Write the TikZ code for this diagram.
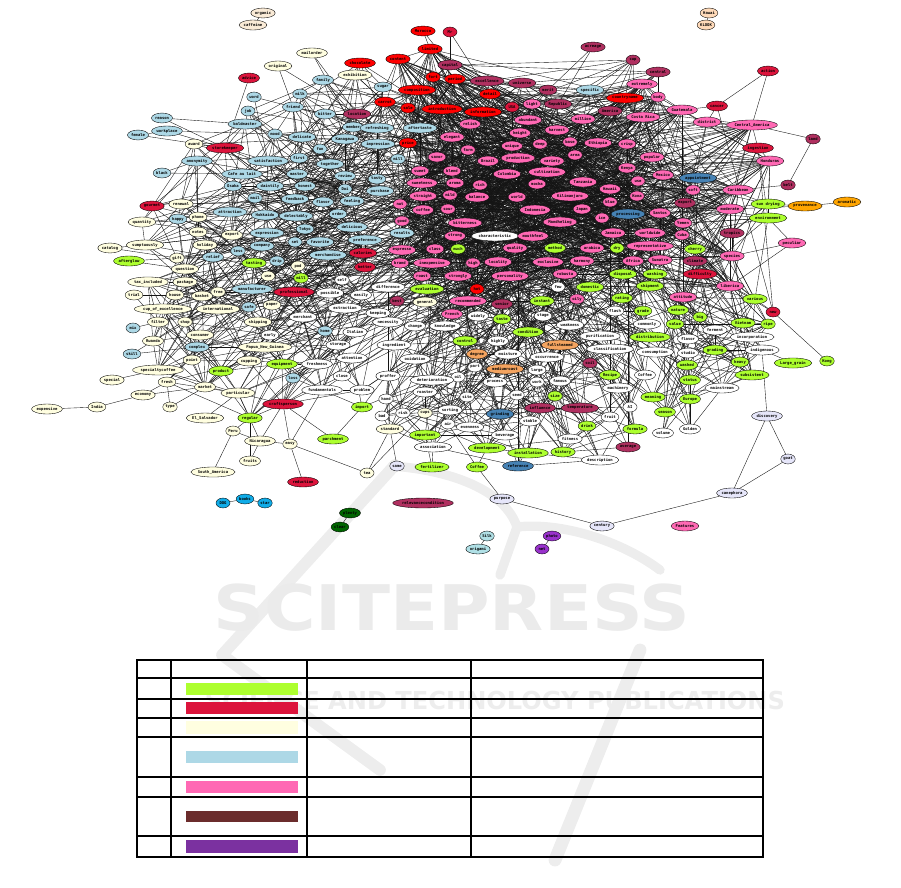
\documentclass[tikz,border=0pt]{standalone}
\usepackage{fontspec}
\setmonofont{DejaVu Sans Mono}
\setsansfont{DejaVu Sans}
\usetikzlibrary{shapes.geometric,backgrounds}
\definecolor{clb}{HTML}{ADD8E6}
\definecolor{cpk}{HTML}{FF69B4}
\definecolor{crd}{HTML}{FF0000}
\definecolor{ccr}{HTML}{DC143C}
\definecolor{cmr}{HTML}{B03060}
\definecolor{cgy}{HTML}{ADFF2F}
\definecolor{civ}{HTML}{FFFEE0}
\definecolor{csb}{HTML}{4682B4}
\definecolor{cog}{HTML}{FFA500}
\definecolor{csa}{HTML}{F4A460}
\definecolor{clv}{HTML}{E6E6FA}
\definecolor{cds}{HTML}{10ACE8}
\definecolor{cdg}{HTML}{006400}
\definecolor{cpb}{HTML}{B0E0E6}
\definecolor{cdv}{HTML}{9932CC}
\definecolor{cli}{HTML}{FAEBD7}
\definecolor{cpc}{HTML}{FFDAB9}
\definecolor{cbr}{HTML}{6B2C2C}
\definecolor{cpu}{HTML}{7B31A0}
\newcount\corecnt
\newcount\hubcnt
\tikzset{
  core/.code={\global\advance\corecnt by 1 \pgfkeysalso{alias/.expanded=k\the\corecnt}},
  hub/.code={\global\advance\corecnt by 1 \global\advance\hubcnt by 1 \pgfkeysalso{alias/.expanded=k\the\corecnt,alias/.expanded=h\the\hubcnt}}
}
\begin{document}
\begin{tikzpicture}[x=0.03cm,y=-0.03cm,
  nd/.style={ellipse,draw=black,line width=0.3pt,inner xsep=0.4pt,inner ysep=1.3pt,minimum height=8.5pt,minimum width=12pt,font=\fontsize{3.3}{3.6}\selectfont\ttfamily\bfseries},
  lb/.style={nd,fill=clb}, pk/.style={nd,fill=cpk}, rd/.style={nd,fill=crd}, cr/.style={nd,fill=ccr},
  mr/.style={nd,fill=cmr}, gy/.style={nd,fill=cgy}, iv/.style={nd,fill=civ}, wh/.style={nd,fill=white},
  sb/.style={nd,fill=csb}, og/.style={nd,fill=cog}, sa/.style={nd,fill=csa}, lv/.style={nd,fill=clv},
  ds/.style={nd,fill=cds}, dg/.style={nd,fill=cdg}, pb/.style={nd,fill=cpb}, dv/.style={nd,fill=cdv},
  li/.style={nd,fill=cli}, pc/.style={nd,fill=cpc},
  link/.style={line width=0.32pt,black!92},
  wm/.style={draw=black!7,line cap=round,line join=round}]
\useasboundingbox (0,0) rectangle (901,887);

\begin{pgfonlayer}{background}
\draw[wm,line width=10pt] (395,465) -- (222,655) -- (380,770);
\draw[wm,line width=11pt] (640,650) -- (555,860);
\draw[wm,line width=8pt] (392,466) .. controls (450,470) and (505,490) .. (517,527);
\draw[wm,line width=8pt] (517,527) .. controls (560,522) and (620,540) .. (660,570);
\draw[wm,line width=8pt] (517,527) -- (500,575);
\node[text=black!8] (wmtitle) at (452,608) {\resizebox{14.3cm}{1.4cm}{\sffamily\bfseries SCITEPRESS}};
\node[text=black!7] (wmsub) at (495,700) {\resizebox{17.4cm}{0.55cm}{\sffamily\bfseries SCIENCE AND TECHNOLOGY PUBLICATIONS}};
\end{pgfonlayer}

\node[li] (organic) at (263,13) {organic};
\node[li] (caffeine) at (253,25) {caffeine};
\node[pc] (hawai) at (709,13) {Hawai};
\node[pc] (klook) at (706,25) {KLOOK};
\node[rd] (morocco) at (423,31) {Morocco};
\node[cr] (mr) at (450,32) {Mr};
\node[mr] (acreage) at (593,47) {acreage};
\node[rd,hub] (limited) at (430,49) {limited};
\node[rd,hub] (content) at (398,59) {content};
\node[mr,core] (capital) at (450,65) {capital};
\node[mr,core] (cup) at (633,60) {cup};
\node[mr,core] (central) at (658,72) {central};
\node[rd,hub] (fort) at (433,77) {fort};
\node[rd,hub] (period) at (455,79) {period};
\node[mr,core] (excellence) at (487,81) {excellence};
\node[mr,core] (universe) at (522,83) {universe};
\node[pk,hub] (extremely) at (642,84) {extremely};
\node[rd,hub] (composition) at (417,90) {composition};
\node[mr,core] (merit) at (548,90) {merit};
\node[lb,core] (specific) at (590,90) {specific};
\node[rd,hub] (detail) at (490,94) {detail};
\node[pk,hub] (body) at (658,97) {body};
\node[rd,hub] (countryname) at (625,98) {countryname};
\node[pk,hub] (light) at (532,104) {light};
\node[mr,core] (republic) at (558,104) {Republic};
\node[cr,core] (usa) at (512,107) {USA};
\node[rd,hub] (sale) at (408,108) {sale};
\node[rd,hub] (introduction) at (442,109) {introduction};
\node[rd,hub] (information) at (483,112) {information};
\node[mr,core] (america) at (610,111) {America};
\node[pk,hub] (guatemala) at (682,110) {Guatemala};
\node[pk,hub] (abundant) at (528,120) {abundant};
\node[pk,hub] (million) at (583,119) {million};
\node[pk,hub] (costarica) at (643,117) {Costa Rica};
\node[pk,hub] (relish) at (470,124) {relish};
\node[lb,core] (aftertaste) at (420,128) {aftertaste};
\node[pk,hub] (height) at (520,133) {height};
\node[pk,hub] (harvest) at (557,130) {harvest};
\node[rd,hub] (price) at (408,143) {price};
\node[pk,hub] (elegant) at (452,137) {elegant};
\node[pk,hub] (deep) at (540,144) {deep};
\node[pk,hub] (ethiopia) at (598,143) {Ethiopia};
\node[pk,hub] (crisp) at (627,144) {crisp};
\node[pk,hub] (base) at (570,142) {base};
\node[pk,hub] (unique) at (512,146) {unique};
\node[pk,hub] (farm) at (468,150) {farm};
\node[pk,hub] (area) at (575,155) {area};
\node[pk,hub] (popular) at (652,157) {popular};
\node[pk,hub] (savor) at (437,157) {savor};
\node[lb,core] (millA) at (398,159) {mill};
\node[pk,hub] (production) at (518,158) {production};
\node[pk,hub] (brazil) at (488,161) {Brazil};
\node[pk,hub] (variety) at (552,161) {variety};
\node[pk,hub] (kenya) at (627,168) {Kenya};
\node[pk,hub] (sweet) at (420,171) {sweet};
\node[pk,hub] (blend) at (452,171) {blend};
\node[pk,hub] (colombia) at (507,174) {Colombia};
\node[pk,hub] (cultivation) at (547,172) {cultivation};
\node[pk,hub] (mexico) at (663,175) {Mexico};
\node[pk,hub] (sweetness) at (422,183) {sweetness};
\node[pk,hub] (aroma) at (455,183) {aroma};
\node[pk,hub] (rich) at (480,185) {rich};
\node[pk,hub] (mocha) at (537,184) {mocha};
\node[pk,hub] (tanzania) at (583,182) {Tanzania};
\node[pk,hub] (hawaii) at (610,189) {Hawaii};
\node[pk,hub] (usep) at (638,181) {use};
\node[pk,hub] (straight) at (423,196) {straight};
\node[pk,hub] (mild) at (450,195) {mild};
\node[pk,hub] (balance) at (477,197) {balance};
\node[pk,hub] (world) at (517,197) {world};
\node[pk,hub] (kilimanjaro) at (570,196) {Kilimanjaro};
\node[pk,hub] (kona) at (637,196) {Kona};
\node[pk,hub] (nut) at (400,204) {nut};
\node[pk,hub] (blue) at (610,202) {blue};
\node[pk,hub] (sour) at (448,209) {sour};
\node[pk,hub] (coffeep) at (423,210) {coffee};
\node[pk,hub] (indonesia) at (535,210) {Indonesia};
\node[pk,hub] (japan) at (582,209) {Japan};
\node[sb,hub] (processing) at (628,214) {processing};
\node[pk,hub] (ice) at (602,218) {ice};
\node[pk,hub] (good) at (402,221) {good};
\node[pk,hub] (bitterness) at (465,223) {bitterness};
\node[pk,hub] (mandheling) at (560,222) {Mandheling};
\node[lb,core] (results) at (402,233) {results};
\node[pk,hub] (strong) at (455,236) {strong};
\node[wh,hub] (characteristic) at (495,236) {characteristic};
\node[pk,hub] (mouth) at (533,236) {mouthfeel};
\node[pk,hub] (jamaica) at (613,233) {Jamaica};
\node[pk,hub] (worldwide) at (650,233) {worldwide};
\node[pk,hub] (espresso) at (402,250) {espresso};
\node[pk,hub] (class) at (435,249) {class};
\node[gy,core] (much) at (458,249) {much};
\node[pk,hub] (quality) at (515,248) {quality};
\node[gy,core] (method) at (555,248) {method};
\node[pk,hub] (arabica) at (592,248) {arabica};
\node[gy,core] (dry) at (617,248) {dry};
\node[pk,hub] (representative) at (650,246) {representative};
\node[pk,hub] (brand) at (400,263) {brand};
\node[pk,hub] (inexpensive) at (432,263) {inexpensive};
\node[pk,hub] (high) at (473,263) {high};
\node[pk,hub] (locality) at (498,262) {locality};
\node[pk,hub] (exclusive) at (548,262) {exclusive};
\node[pk,hub] (harmony) at (582,261) {harmony};
\node[pk,hub] (africa) at (633,261) {Africa};
\node[pk,hub] (roast) at (422,276) {roast};
\node[pk,hub] (strongly) at (458,276) {strongly};
\node[pk,hub] (personality) at (510,276) {personality};
\node[pk,hub] (robusta) at (565,274) {robusta};
\node[gy,core] (disposal) at (623,274) {disposal};
\node[gy,core] (washing) at (655,274) {washing};
\node[wh,core] (difference) at (388,287) {difference};
\node[gy,core] (evaluation) at (427,289) {evaluation};
\node[rd,hub] (hot) at (477,289) {hot};
\node[wh,core] (few) at (558,287) {few};
\node[gy,core] (domestic) at (590,287) {domestic};
\node[gy,core] (shipment) at (650,286) {shipment};
\node[mr,core] (best) at (397,301) {best};
\node[iv,core] (general) at (425,302) {general};
\node[pk,hub] (recommended) at (468,301) {recommended};
\node[mr,core] (senior) at (502,304) {senior};
\node[gy,core] (instant) at (542,301) {instant};
\node[pk,hub] (oily) at (577,299) {oily};
\node[gy,core] (rating) at (622,298) {rating};
\node[pk,hub] (french) at (452,314) {French};
\node[wh,core] (widely) at (478,316) {widely};
\node[gy,core] (taste) at (502,319) {taste};
\node[wh,core] (stage) at (543,316) {stage};
\node[wh,core] (flash) at (615,311) {flash};
\node[gy,core] (grade) at (643,311) {grade};
\node[wh,core] (necessity) at (388,322) {necessity};
\node[wh,core] (change) at (415,326) {change};
\node[wh,core] (knowledge) at (445,326) {knowledge};
\node[wh,core] (weakness) at (570,325) {weakness};
\node[wh,core] (commonly) at (647,324) {commonly};
\node[gy,core] (condition) at (528,332) {condition};
\node[wh,core] (purification) at (600,336) {purification};
\node[gy,core] (distribution) at (650,337) {distribution};
\node[wh,core] (ingredient) at (394,345) {ingredient};
\node[gy,core] (control) at (465,341) {control};
\node[wh,core] (highly) at (498,341) {highly};
\node[sa,core] (fullsteamed) at (560,345) {fullsteamed};
\node[wh,core] (classification) at (610,349) {classification};
\node[sa,core] (degree) at (477,354) {degree};
\node[wh,core] (moisture) at (508,354) {moisture};
\node[wh,core] (occurrence) at (547,357) {occurrence};
\node[wh,core] (oxidation) at (415,359) {oxidation};
\node[wh,core] (part) at (475,367) {part};
\node[sa,core] (mediumroast) at (505,369) {mediumroast};
\node[wh,core] (large) at (537,370) {large};
\node[mr,core] (soil) at (590,363) {soil};
\node[gy,core] (recipe) at (610,375) {Recipe};
\node[wh,core] (coffeew) at (645,375) {Coffee};
\node[wh,core] (proffer) at (388,376) {proffer};
\node[wh,core] (oil) at (458,377) {oil};
\node[wh,core] (deterioration) at (432,380) {deterioration};
\node[wh,core] (process) at (495,382) {process};
\node[wh,core] (work) at (537,382) {work};
\node[wh,core] (famous) at (560,381) {famous};
\node[wh,core] (machinery) at (618,388) {machinery};
\node[wh,core] (roaster) at (425,392) {roaster};
\node[wh,core] (site) at (467,397) {site};
\node[wh,core] (seed) at (517,395) {seed};
\node[gy,core] (size) at (555,396) {size};
\node[wh,core] (hand) at (386,399) {hand};
\node[wh,core] (ai) at (630,407) {AI};
\node[wh,core] (sorting) at (450,410) {sorting};
\node[wh,core] (risk) at (403,413) {risk};
\node[iv,core] (cups) at (425,413) {cups};
\node[sb,core] (grinding) at (500,414) {grinding};
\node[mr,core] (influence) at (540,408) {influence};
\node[mr,core] (temperature) at (580,408) {temperature};
\node[wh,core] (fruit) at (610,417) {fruit};
\node[wh,core] (bad) at (382,416) {bad};
\node[wh,core] (stable) at (530,421) {stable};
\node[wh,core] (air) at (448,424) {air};
\node[wh,core] (evenness) at (470,427) {evenness};
\node[gy,core] (drink) at (587,426) {drink};
\node[gy,core] (formula) at (635,429) {formula};
\node[iv,core] (standard) at (390,429) {standard};
\node[gy,core] (important) at (425,435) {important};
\node[wh,core] (beverage) at (505,435) {beverage};
\node[wh,core] (fitness) at (570,439) {fitness};
\node[mr,core] (average) at (628,447) {average};
\node[wh,core] (association) at (433,447) {association};
\node[gy,core] (development) at (487,448) {development};
\node[gy,core] (installation) at (528,453) {installation};
\node[gy,core] (history) at (563,452) {history};
\node[wh,core] (description) at (600,460) {description};
\node[sb,core] (reference) at (518,466) {reference};
\node[gy] (fertilizer) at (432,467) {fertilizer};
\node[gy] (coffeeg) at (477,467) {Coffee};
\node[iv] (tea) at (367,473) {tea};
\node[lv] (same) at (397,466) {same};

\node[iv] (mailorder) at (312,53) {mailorder};
\node[rd,core] (chocolate) at (360,63) {chocolate};
\node[iv] (original) at (278,66) {original};
\node[iv,core] (exhibition) at (355,75) {exhibition};
\node[cr] (advice) at (249,78) {advice};
\node[lb,core] (family) at (323,80) {family};
\node[lb,core] (sugar) at (383,87) {sugar};
\node[lb,core] (milk) at (300,94) {milk};
\node[lb] (word) at (254,97) {word};
\node[rd,hub] (carrot) at (385,102) {carrot};
\node[lb,core] (friend) at (293,107) {friend};
\node[lb,core] (job) at (248,111) {job};
\node[lb,core] (bitter) at (325,114) {bitter};
\node[mr,core] (location) at (357,114) {location};
\node[lb] (reason) at (162,118) {reason};
\node[lb,core] (baldmaster) at (245,124) {baldmaster};
\node[lb,core] (member) at (353,127) {member};
\node[lb,core] (refreshing) at (377,128) {refreshing};
\node[lb] (workplace) at (167,131) {workplace};
\node[lb] (female) at (138,135) {female};
\node[lb,core] (mood) at (275,134) {mood};
\node[lb,core] (delicate) at (302,137) {delicate};
\node[lb,core] (kanagawa) at (345,139) {Kanagawa};
\node[iv,core] (award) at (194,144) {award};
\node[lb,core] (impression) at (378,144) {impression};
\node[cr,core] (storekeeper) at (225,148) {storekeeper};
\node[lb,core] (fun) at (320,149) {fun};
\node[lb,core] (first) at (299,158) {first};
\node[lb,core] (anonymity) at (197,161) {anonymity};
\node[lb,core] (satisfaction) at (268,161) {satisfaction};
\node[lb,core] (together) at (330,164) {together};
\node[lb] (black) at (162,173) {black};
\node[lb,core] (cafeaulait) at (242,174) {Cafe au lait};
\node[lb,core] (master) at (297,174) {master};
\node[lb,core] (review) at (345,176) {review};
\node[lb,core] (tasty) at (377,179) {tasty};
\node[lb,core] (osaka) at (233,186) {Osaka};
\node[lb,core] (daintily) at (270,186) {daintily};
\node[lb,core] (honest) at (305,186) {honest};
\node[lb,core] (doi) at (345,189) {Doi};
\node[lb,core] (purchase) at (380,191) {purchase};
\node[lb,core] (mail) at (255,198) {mail};
\node[lb,core] (feedback) at (295,199) {feedback};
\node[lb,core] (flavorb) at (323,202) {flavor};
\node[lb,core] (feeling) at (352,201) {feeling};
\node[cr,core] (gourmet) at (152,206) {gourmet};
\node[iv,core] (renewal) at (181,204) {renewal};
\node[lb,core] (attraction) at (230,212) {attraction};
\node[lb,core] (hokkaido) at (265,215) {Hokkaido};
\node[lb,core] (delectably) at (296,216) {delectably};
\node[lb,core] (order) at (338,214) {order};
\node[iv,core] (quantity) at (142,222) {quantity};
\node[lb,core] (happy) at (178,219) {happy};
\node[iv,core] (phone) at (198,217) {phone};
\node[lb,core] (delicious) at (352,227) {delicious};
\node[lb,core] (tokyo) at (305,229) {Tokyo};
\node[iv,core] (notes) at (198,232) {notes};
\node[iv,core] (export) at (232,235) {export};
\node[lb,core] (expression) at (267,233) {expression};
\node[lb,core] (preference) at (365,240) {preference};
\node[lb,core] (set) at (295,242) {set};
\node[lb,core] (favorite) at (320,242) {favorite};
\node[iv] (catalog) at (110,248) {catalog};
\node[iv,core] (sumptuously) at (145,245) {sumptuously};
\node[iv,core] (holiday) at (205,245) {holiday};
\node[lb,core] (company) at (262,246) {company};
\node[lb,core] (less) at (238,251) {less};
\node[cr,core] (calories) at (363,253) {calories};
\node[lb,core] (merchandise) at (328,255) {merchandise};
\node[iv,core] (gift) at (177,258) {gift};
\node[lb,core] (relief) at (213,257) {relief};
\node[gy,core] (tasting) at (254,263) {tasting};
\node[lb,core] (drip) at (277,261) {drip};
\node[gy] (afterglow) at (129,261) {afterglow};
\node[iv,core] (pod) at (298,266) {pod};
\node[cr,core] (better) at (365,267) {better};
\node[iv,core] (question) at (185,269) {question};
\node[iv,core] (usei) at (268,276) {use};
\node[gy,core] (millB) at (301,278) {mill};
\node[wh,core] (self) at (342,280) {self};
\node[iv,core] (taxincluded) at (148,282) {tax\_included};
\node[iv,core] (package) at (185,282) {package};
\node[lb,core] (manufacturer) at (252,289) {manufacturer};
\node[iv,core] (free) at (218,292) {free};
\node[cr,core] (professional) at (294,292) {professional};
\node[wh,core] (possible) at (330,293) {possible};
\node[wh,core] (easily) at (361,295) {easily};
\node[iv] (trial) at (134,295) {trial};
\node[iv,core] (house) at (175,295) {house};
\node[iv,core] (basket) at (202,296) {basket};
\node[iv,core] (paper) at (272,305) {paper};
\node[lb,core] (safe) at (249,307) {safe};
\node[wh,core] (extraction) at (345,308) {extraction};
\node[iv,core] (cupofexcellence) at (163,309) {cup\_of\_excellence};
\node[iv,core] (international) at (218,309) {international};
\node[wh,core] (keeping) at (378,313) {keeping};
\node[wh,core] (merchant) at (303,317) {merchant};
\node[iv,core] (filter) at (158,322) {filter};
\node[iv,core] (shop) at (185,322) {shop};
\node[iv,core] (shipping) at (258,322) {shipping};
\node[lb] (mix) at (133,328) {mix};
\node[lb,core] (home) at (325,331) {home};
\node[wh,core] (italian) at (355,332) {Italian};
\node[iv,core] (consumer) at (200,335) {consumer};
\node[wh,core] (early) at (270,335) {early};
\node[iv,core] (rwanda) at (153,341) {Rwanda};
\node[wh,core] (storage) at (338,345) {storage};
\node[lb,core] (complex) at (197,347) {complex};
\node[iv,core] (papua) at (265,347) {Papua\_New\_Guinea};
\node[lb] (skill) at (132,354) {skill};
\node[wh,core] (attention) at (352,358) {attention};
\node[iv,core] (point) at (192,360) {point};
\node[iv,core] (cupping) at (249,361) {cupping};
\node[gy,core] (equipment) at (282,364) {equipment};
\node[wh,core] (freshness) at (317,364) {freshness};
\node[iv,core] (specialtycoffee) at (158,370) {specialtycoffee};
\node[gy,core] (product) at (221,371) {product};
\node[wh,core] (close) at (342,376) {close};
\node[lb,core] (loss) at (293,378) {loss};
\node[iv] (special) at (112,380) {special};
\node[iv,core] (fresh) at (167,382) {fresh};
\node[iv,core] (market) at (205,387) {market};
\node[wh,core] (fundamentals) at (322,390) {fundamentals};
\node[wh,core] (problem) at (362,390) {problem};
\node[iv,core] (particular) at (238,393) {particular};
\node[iv] (economy) at (143,395) {economy};
\node[cr,core] (craftsperson) at (283,404) {craftsperson};
\node[gy,core] (import) at (362,407) {import};
\node[iv] (india) at (97,407) {India};
\node[iv] (expensive) at (47,409) {expensive};
\node[iv] (type) at (170,407) {type};
\node[iv] (elsalvador) at (205,418) {El\_Salvador};
\node[gy,core] (regular) at (250,418) {regular};
\node[iv] (peru) at (233,431) {Peru};
\node[gy] (parchment) at (333,439) {parchment};
\node[iv] (nicaragua) at (260,441) {Nicaragua};
\node[iv] (easy) at (290,444) {easy};
\node[iv] (fruits) at (250,461) {fruits};
\node[iv] (southamerica) at (213,472) {South\_America};
\node[cr] (reduction) at (303,482) {reduction};
\node[ds] (dog) at (223,503) {DOG};
\node[ds] (books) at (245,499) {books};
\node[ds] (star) at (265,503) {star};

\node[cr] (action) at (768,71) {action};
\node[cr] (cancer) at (717,106) {cancer};
\node[pk,core] (district) at (707,122) {district};
\node[pk,hub] (centralamerica) at (752,125) {Central\_America};
\node[mr] (land) at (813,139) {land};
\node[cr,core] (ingestion) at (758,148) {ingestion};
\node[pk,hub] (honduras) at (770,161) {Honduras};
\node[sb,core] (appointment) at (698,178) {appointment};
\node[mr] (belt) at (788,185) {belt};
\node[pk,hub] (soft) at (693,190) {soft};
\node[pk,hub] (caribbean) at (738,190) {Caribbean};
\node[mr,core] (exportm) at (685,203) {export};
\node[gy,core] (sundrying) at (768,204) {sun drying};
\node[og] (provenance) at (805,206) {provenance};
\node[og] (aromatic) at (847,202) {aromatic};
\node[pk,hub] (moderate) at (730,209) {moderate};
\node[pk,hub] (santos) at (660,213) {Santos};
\node[gy,core] (environment) at (768,218) {environment};
\node[pk,hub] (yemen) at (683,223) {Yemen};
\node[mr,core] (tropics) at (732,233) {tropics};
\node[pk,hub] (cuba) at (682,235) {Cuba};
\node[pk] (peculiar) at (792,243) {peculiar};
\node[gy,core] (cherry) at (695,249) {cherry};
\node[pk,hub] (species) at (732,256) {species};
\node[pk,hub] (sumatra) at (660,260) {Sumatra};
\node[mr,core] (climate) at (695,261) {climate};
\node[cr,core] (difficulty) at (700,274) {difficulty};
\node[pk,hub] (liberica) at (730,286) {liberica};
\node[pk,core] (attitude) at (683,297) {attitude};
\node[gy,core] (various) at (755,299) {various};
\node[gy,core] (nature) at (678,310) {nature};
\node[cr] (new) at (773,312) {new};
\node[gy,core] (big) at (700,317) {big};
\node[gy,core] (value) at (675,324) {value};
\node[gy,core] (vietnam) at (743,323) {Vietnam};
\node[gy,core] (ripe) at (768,324) {ripe};
\node[wh,core] (ferment) at (715,330) {ferment};
\node[wh,core] (incorporation) at (752,337) {incorporation};
\node[wh,core] (flavorw) at (688,339) {flavor};
\node[gy,core] (grading) at (715,350) {grading};
\node[wh,core] (indigenous) at (762,350) {indigenous};
\node[wh,core] (consumption) at (655,352) {consumption};
\node[wh,core] (studio) at (688,353) {studio};
\node[gy,core] (heavy) at (740,362) {heavy};
\node[gy] (largegrain) at (793,363) {Large\_grain};
\node[gy] (kong) at (827,361) {Kong};
\node[gy,core] (washed) at (687,365) {washed};
\node[gy,core] (subsistent) at (752,375) {subsistent};
\node[gy,core] (status) at (690,380) {status};
\node[wh,core] (mainstream) at (722,388) {mainstream};
\node[gy,core] (meaning) at (653,397) {meaning};
\node[gy,core] (europe) at (690,399) {Europe};
\node[gy,core] (season) at (665,412) {season};
\node[wh,core] (golden) at (690,429) {Golden};
\node[wh,core] (volume) at (663,433) {volume};
\node[lv] (discovery) at (767,416) {discovery};
\node[lv] (goat) at (788,459) {goat};
\node[lv] (canephora) at (732,493) {canephora};
\node[lv] (purpose) at (502,499) {purpose};
\node[mr] (relevance) at (423,503) {relevancecondition};
\node[dg] (plenty) at (350,513) {plenty};
\node[dg] (clear) at (340,527) {clear};
\node[lv] (century) at (602,526) {century};
\node[pk] (features) at (685,526) {Features};
\node[pb] (silk) at (487,536) {Silk};
\node[pb] (origami) at (478,549) {origami};
\node[dv] (photo) at (552,536) {photo};
\node[dv] (net) at (542,549) {net};

\edef\ncore{\the\corecnt}
\edef\nhub{\the\hubcnt}

\begin{pgfonlayer}{background}
\foreach \i in {1,...,\ncore}{
  \foreach \d in {1,...,30}{
    \pgfmathtruncatemacro\j{\i+\d}
    \ifnum\j>\ncore\relax\else
      \pgfpointdiff{\pgfpointanchor{k\i}{center}}{\pgfpointanchor{k\j}{center}}
      \pgfgetlastxy{\dx}{\dy}
      \pgfmathtruncatemacro\ok{and(veclen(\dx,\dy)<80,mod(\i*3+\d*7,5)<2)}
      \ifnum\ok=1 \draw[link] (k\i) -- (k\j);\fi
    \fi
  }
}
\foreach \i in {1,...,\nhub}{
  \foreach \d in {5,9,17,23,31,45,53}{
    \pgfmathtruncatemacro\j{mod(\i+\d-1,\nhub)+1}
    \draw[link] (h\i) -- (h\j);
  }
}
\foreach \i in {1,...,\ncore}{
  \pgfmathtruncatemacro\j{mod(\i*13,\nhub)+1}
  \draw[link] (k\i) -- (h\j);
  \pgfmathtruncatemacro\j{mod(\i*29+5,\nhub)+1}
  \draw[link] (k\i) -- (h\j);
}
\foreach \a/\b in {organic/caffeine,hawai/klook,dog/books,books/star,plenty/clear,silk/origami,photo/net,
  provenance/aromatic,sundrying/provenance,moderate/provenance,expensive/india,india/economy,economy/fresh,
  special/specialtycoffee,type/market,elsalvador/particular,peru/regular,peru/southamerica,peru/nicaragua,
  fruits/regular,nicaragua/easy,nicaragua/particular,nicaragua/craftsperson,easy/craftsperson,easy/reduction,
  easy/tea,easy/fundamentals,tea/cups,tea/standard,same/standard,fertilizer/association,fertilizer/important,
  coffeeg/purpose,coffeeg/development,coffeeg/air,purpose/century,century/canephora,canephora/discovery,
  canephora/goat,goat/discovery,discovery/indigenous,kong/new,new/various,new/ingestion,new/liberica,
  largegrain/indigenous,action/cancer,action/centralamerica,land/centralamerica,land/belt,belt/caribbean,
  cancer/district,cancer/guatemala,cancer/new,peculiar/species,peculiar/environment,peculiar/liberica,
  catalog/sumptuously,catalog/gift,afterglow/question,afterglow/gift,trial/house,trial/filter,mix/filter,
  skill/rwanda,skill/complex,female/workplace,female/storekeeper,reason/storekeeper,reason/baldmaster,
  workplace/storekeeper,workplace/mood,black/cafeaulait,black/anonymity,advice/storekeeper,word/friend,
  word/satisfaction,mailorder/location,mailorder/member,original/location,original/friend,morocco/limited,
  morocco/capital,mr/detail,mr/capital,acreage/republic,acreage/merit,parchment/import,parchment/craftsperson,
  type/fresh,economy/market,fruits/nicaragua,capital/cup,capital/central,excellence/cup,universe/central}
  \draw[link] (\a) -- (\b);
\end{pgfonlayer}

\draw[line width=1pt] (137,660) rectangle (763,857);
\foreach \y in {678,699,718,737,777,797,836} \draw[line width=1pt] (137,\y) -- (763,\y);
\foreach \x in {171,307,471} \draw[line width=1pt] (\x,660) -- (\x,857);
\fill[cgy] (186,683) rectangle (298,695);
\fill[ccr] (186,702) rectangle (298,714);
\fill[civ] (186,721) rectangle (298,734);
\fill[clb] (186,751) rectangle (298,763);
\fill[cpk] (186,781) rectangle (298,793);
\fill[cbr] (186,811) rectangle (298,822);
\fill[cpu] (186,840) rectangle (298,853);
\end{tikzpicture}
\end{document}
